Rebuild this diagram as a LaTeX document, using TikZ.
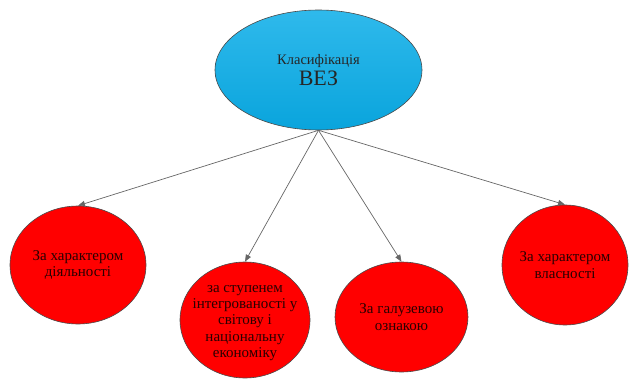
\documentclass[tikz,border=0pt]{standalone}
\usepackage{fontspec}
\setmainfont{Liberation Serif}
\usetikzlibrary{shapes.geometric,arrows.meta}
\definecolor{topblue}{HTML}{0AADE8}
\definecolor{redfill}{HTML}{FF0000}
\definecolor{edgegray}{HTML}{4A4A4A}
\definecolor{txtred}{HTML}{2A0000}
\tikzset{
  topnode/.style={ellipse, draw=edgegray, line width=0.6pt, top color=topblue!85!white, bottom color=topblue!95!black, inner sep=0pt, align=center, text=black!85},
  catnode/.style={ellipse, draw=edgegray, line width=0.6pt, fill=redfill, inner sep=0pt},
  cattext/.style={align=center, text=txtred, inner sep=0pt, font=\fontsize{15}{16.3}\selectfont},
  link/.style={draw=black!60, line width=0.7pt, -{Triangle[length=7pt,width=5.5pt]}, shorten >=0pt}
}
\begin{document}
\begin{tikzpicture}[x=1pt,y=-1pt]
\useasboundingbox (0,0) rectangle (633,380);
\node[topnode, minimum width=207pt, minimum height=120pt] (top) at (318.5,70)
  {{\fontsize{14.5}{15}\selectfont Класифікація}\\[2pt]{\fontsize{22}{24}\selectfont ВЕЗ}};
\node[catnode, minimum width=136pt, minimum height=118pt,
  label={[cattext]center:{За характером\\діяльності}}] (c1) at (78,265) {};
\node[catnode, minimum width=130pt, minimum height=116pt,
  label={[cattext, yshift=-3pt]center:{за ступенем\\інтегрованості у\\світову і\\національну\\економіку}}] (c2) at (245,320) {};
\node[catnode, minimum width=133pt, minimum height=110pt,
  label={[cattext]center:{За галузевою\\ознакою}}] (c3) at (401.5,317) {};
\node[catnode, minimum width=126pt, minimum height=120pt,
  label={[cattext]center:{За характером\\власності}}] (c4) at (565,265) {};
\draw[link] (top.south) -- (c1.north);
\draw[link] (top.south) -- (c2.north);
\draw[link] (top.south) -- (c3.north);
\draw[link] (top.south) -- (c4.north);
\end{tikzpicture}
\end{document}
